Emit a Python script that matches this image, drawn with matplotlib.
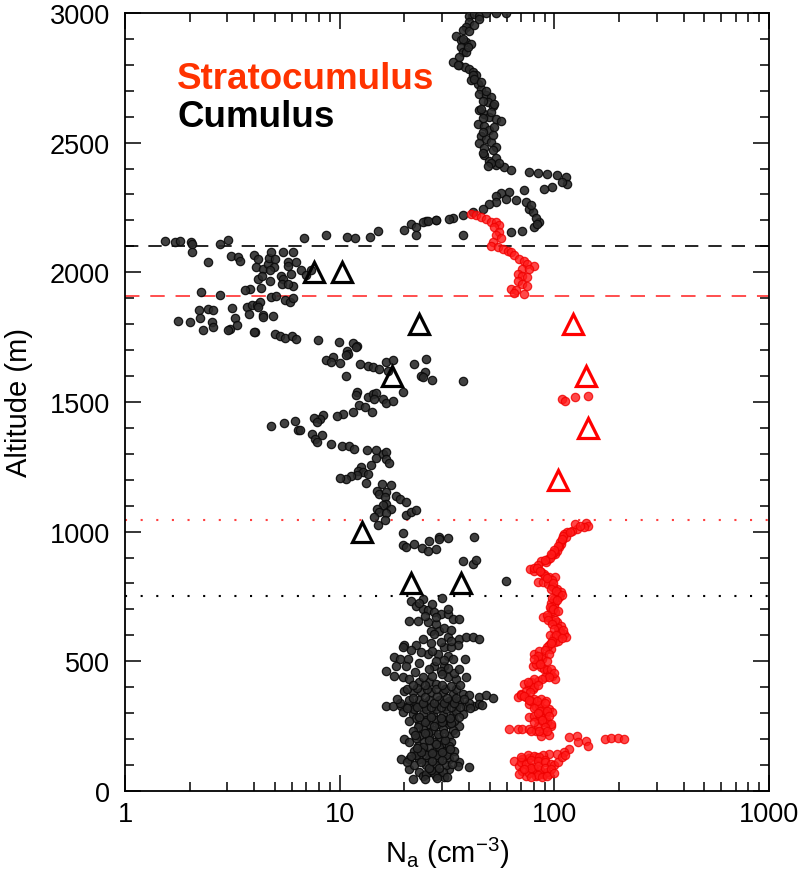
import numpy as np
import matplotlib
matplotlib.use("Agg")
import matplotlib.pyplot as plt
from matplotlib.ticker import FixedLocator, NullFormatter

plt.rcParams["font.family"] = ["Liberation Sans", "DejaVu Sans"]
plt.rcParams["mathtext.fontset"] = "custom"
plt.rcParams["mathtext.rm"] = "Liberation Sans"
plt.rcParams["mathtext.it"] = "Liberation Sans:italic"

# ---------- data: (N_a [cm^-3], altitude [m]) ----------
# cumulus profile
cu_top = [
    (40.2, 2990), (42.4, 2997), (44.7, 2990), (48.0, 2998), (53.5, 2998), (59.4, 2998),
    (40.2, 2965), (38.9, 2946), (37.5, 2933), (34.9, 2913), (36.8, 2894), (38.9, 2888),
    (40.9, 2881), (36.8, 2868), (37.5, 2849), (36.1, 2830), (33.7, 2811), (36.1, 2798),
    (38.2, 2791), (40.2, 2785), (41.6, 2772), (43.1, 2759), (40.9, 2740), (43.9, 2727),
    (45.5, 2708), (44.7, 2688), (48.0, 2682), (50.7, 2675), (48.9, 2656), (51.6, 2643),
    (44.7, 2624), (47.2, 2611), (49.8, 2598), (53.5, 2592), (56.4, 2585), (43.9, 2573),
    (47.2, 2566), (49.8, 2547), (45.5, 2527), (48.0, 2515), (50.7, 2502), (53.5, 2483),
    (47.2, 2451), (49.8, 2431), (53.5, 2412), (58.4, 2405), (62.7, 2393),
    (48.0, 2700), (46.3, 2660), (52.5, 2650), (45.5, 2630), (50.7, 2620), (46.3, 2595),
    (52.5, 2560), (46.3, 2540), (51.6, 2530), (44.7, 2500), (47.2, 2480), (51.6, 2470),
    (46.3, 2460), (53.5, 2440), (50.7, 2420), (55.4, 2420), (48.9, 2410), (38.9, 2850),
    (35.5, 2800), (41.6, 2760), (42.4, 2745), (45.5, 2735), (39.6, 2870), (37.5, 2900),
    (40.2, 2930), (42.4, 2955), (44.7, 2975),
]
cu_branch = [
    (76.4, 2386), (83.5, 2384), (92.6, 2380), (103, 2376), (113, 2367), (115, 2341),
    (109, 2348), (97.8, 2328), (89.5, 2322), (72.2, 2319), (61.6, 2311), (56.4, 2306),
    (53.5, 2296), (59.4, 2283), (66.1, 2277), (73.5, 2271), (76.4, 2245), (79.2, 2232),
    (85.0, 2193), (80.7, 2174), (71.0, 2161), (62.7, 2157), (53.5, 2271), (49.8, 2265),
    (46.3, 2245), (41.6, 2232), (37.5, 2219), (33.7, 2208), (28.2, 2203), (25.3, 2199),
    (37.5, 2145), (82.0, 2210), (78.0, 2258), (83.0, 2185),
]
cu_left = [
    (1.53, 2122), (1.71, 2116), (1.80, 2119), (2.04, 2116), (2.06, 2110), (2.06, 2080),
    (2.77, 2110), (3.02, 2126), (6.80, 2132), (8.67, 2142), (10.8, 2136), (11.8, 2132),
    (13.8, 2136), (15.1, 2159), (20.0, 2164), (21.5, 2187), (22.7, 2174), (24.4, 2193),
    (25.8, 2197), (28.2, 2202), (32.4, 2206), (22.7, 2142),
    (2.44, 2039), (3.11, 2062), (3.37, 2058), (3.45, 2042), (3.98, 2067), (4.18, 2052),
    (4.07, 2020), (4.40, 2011), (4.18, 1975), (4.36, 1985), (4.72, 1968), (4.64, 2033),
    (4.69, 2054), (4.81, 2078), (4.98, 2052), (4.93, 2020), (4.72, 2007), (5.45, 2078),
    (6.06, 2080), (5.75, 2039), (5.75, 2026), (6.28, 2039), (5.35, 1985), (5.45, 1975),
    (5.41, 1955), (5.95, 1994), (6.06, 1947), (5.75, 1955), (6.62, 2007), (6.99, 1988),
    (7.37, 2007), (4.32, 1939), (3.81, 1936), (3.61, 1930), (2.27, 1923), (2.77, 1913),
    (4.81, 1904), (5.07, 1908), (5.54, 1895), (5.85, 1887), (6.06, 1900), (3.68, 1866),
    (3.89, 1872), (4.10, 1875), (4.24, 1885), (4.18, 1866), (3.78, 1840), (4.40, 1836),
    (4.40, 1827), (4.89, 1831), (3.14, 1862), (2.44, 1859), (2.58, 1853), (2.22, 1856),
    (2.23, 1823), (2.53, 1810), (2.56, 1788), (2.31, 1778), (2.01, 1810), (1.77, 1812),
    (3.08, 1782), (3.02, 1778), (3.25, 1823), (3.31, 1797), (4.02, 1769), (4.98, 1763),
    (5.26, 1756), (5.54, 1746), (6.01, 1756), (6.23, 1743), (7.93, 1737), (9.94, 1731),
    (11.5, 1728), (12.0, 1715),
]
cu_mid = [
    (3.98, 1769), (11.9, 1711), (10.8, 1698), (10.9, 1686), (10.7, 1682), (9.32, 1673),
    (8.67, 1660), (9.15, 1656), (10.0, 1650), (12.4, 1647), (13.5, 1640), (14.3, 1634),
    (15.3, 1628), (16.4, 1654), (17.8, 1660), (16.8, 1621), (22.3, 1647), (25.3, 1664),
    (24.9, 1615), (23.9, 1602), (24.4, 1596), (27.0, 1585), (37.6, 1580), (10.7, 1602),
    (12.0, 1540), (11.9, 1527), (13.5, 1518), (14.3, 1531), (14.8, 1535), (14.5, 1512),
    (15.9, 1512), (16.5, 1497), (17.7, 1505), (19.8, 1540), (12.3, 1489), (13.1, 1480),
    (14.2, 1463), (11.5, 1461), (10.4, 1454), (9.68, 1445), (8.35, 1450), (8.07, 1435),
    (7.58, 1440), (7.85, 1422), (4.81, 1409), (5.51, 1419), (6.17, 1425), (6.40, 1390),
    (6.51, 1393), (7.46, 1377), (8.30, 1373), (7.67, 1358), (7.85, 1347), (9.15, 1338),
    (10.3, 1332), (11.1, 1329), (11.6, 1319), (13.4, 1315), (14.8, 1313), (14.8, 1283),
    (15.9, 1300), (16.4, 1306), (16.5, 1281), (16.9, 1265), (14.0, 1255), (12.6, 1249),
    (12.2, 1235), (12.9, 1229), (13.5, 1223), (12.0, 1219), (11.3, 1214), (10.7, 1201),
    (10.0, 1206), (13.3, 1188), (15.8, 1184), (17.4, 1178), (14.9, 1158), (15.2, 1146),
    (16.5, 1152), (16.2, 1133), (18.2, 1137), (19.0, 1126), (20.4, 1116), (16.5, 1107),
    (15.9, 1101), (17.4, 1088), (14.9, 1088), (15.3, 1075), (16.4, 1071), (14.5, 1056),
    (15.1, 1024), (16.2, 1043), (20.4, 1065), (21.6, 1075), (22.7, 1082), (19.7, 995),
    (19.7, 949), (20.3, 941), (22.3, 952), (24.2, 936), (25.8, 927), (28.2, 933),
    (26.2, 962), (29.1, 979), (29.0, 972), (31.9, 976), (42.4, 979),
    (37.4, 888), (41.7, 876), (43.2, 892), (59.6, 811),
]
cu_low = [
    (21.5, 734), (22.7, 715), (24.4, 702), (25.7, 696), (27.6, 689), (29.6, 683),
    (31.8, 683), (33.6, 663), (36.1, 663), (21.1, 657), (23.1, 657), (25.7, 651),
    (28.1, 644), (26.6, 618), (29.1, 618), (31.8, 593), (24.4, 586), (22.7, 561),
    (20.0, 561), (19.7, 554), (36.1, 586), (38.8, 593), (41.7, 593), (44.7, 586),
    (35.4, 561), (30.7, 554), (33.0, 554), (18.0, 516), (19.0, 509), (20.8, 509),
    (18.3, 483), (20.4, 483), (16.5, 464), (18.0, 445), (25.7, 528), (28.6, 528),
    (31.8, 522), (33.6, 509), (38.2, 509), (27.6, 483), (30.7, 483), (29.6, 464),
    (19.7, 438), (21.1, 432), (23.5, 419), (26.2, 419), (28.1, 413), (31.8, 438),
    (34.8, 432), (38.8, 438),
    (20.0, 387), (21.9, 381), (23.9, 381), (26.6, 381), (30.2, 381), (33.6, 374),
    (37.4, 374), (40.2, 370), (44.7, 361), (48.1, 370), (51.7, 357),
    (16.5, 329), (17.7, 329), (19.4, 329), (20.8, 329), (22.7, 329), (25.3, 329),
    (28.1, 329), (31.2, 329), (34.8, 329), (38.8, 329), (42.4, 329),
    (19.7, 303), (21.9, 297), (24.4, 297), (27.1, 291), (30.2, 291), (33.6, 291),
    (37.4, 297), (23.5, 258), (26.2, 258), (29.1, 258), (32.4, 258), (36.1, 252),
    (23.5, 213), (26.2, 207), (29.1, 207), (32.4, 213),
    (22.3, 156), (24.8, 156), (27.6, 156), (30.7, 156), (34.2, 156),
    (19.4, 123), (21.1, 123), (23.5, 123), (26.2, 123), (29.1, 123), (32.4, 123),
    (36.1, 111), (40.2, 91), (23.5, 72), (26.2, 72), (29.1, 72), (32.4, 85),
    (21.1, 85), (24.4, 59), (28.1, 59), (30.7, 53),
    (21.1, 350), (23.5, 350), (26.2, 350), (29.1, 350), (32.4, 345), (36.1, 345),
    (40.2, 340), (44.7, 335), (22.3, 315), (25.3, 315), (28.1, 315), (31.2, 315),
    (34.8, 310), (22.7, 280), (25.3, 275), (28.1, 275), (31.2, 275), (34.2, 270),
    (24.4, 240), (27.1, 235), (30.2, 240), (33.6, 235), (24.8, 190), (27.6, 190),
    (30.7, 185), (33.0, 190), (23.1, 175), (26.2, 170), (29.1, 170), (32.4, 175),
    (22.7, 140), (25.3, 140), (28.1, 140), (31.2, 140), (22.3, 100), (25.3, 100),
    (28.1, 100), (31.2, 100), (35.4, 95), (25.3, 65), (27.6, 68), (26.6, 80),
    (30.2, 72), (23.1, 245), (21.9, 230), (25.7, 225), (28.6, 220), (20.0, 200),
    (22.7, 205), (24.4, 170), (21.1, 190), (24.4, 740), (30.0, 745),
]
cu_core = [
    (22.0, 45), (25.0, 48), (28.5, 50), (31.5, 55), (26.0, 88), (29.0, 90), (33.5, 105),
    (20.5, 110), (23.8, 110), (27.0, 115), (30.0, 118), (34.0, 130), (21.5, 135),
    (24.0, 150), (27.0, 148), (30.0, 150), (32.5, 160), (23.0, 165), (28.0, 180),
    (31.0, 195), (26.0, 195), (22.5, 215), (25.0, 222), (30.5, 225), (34.5, 225),
    (27.5, 250), (25.0, 265), (30.0, 265), (33.0, 262), (21.0, 270), (23.5, 285),
    (26.5, 285), (29.5, 282), (32.5, 282), (36.0, 285), (20.5, 320), (23.0, 322),
    (26.5, 322), (29.5, 322), (33.0, 322), (36.5, 322), (40.5, 318), (46.0, 330),
    (19.0, 340), (24.5, 338), (27.5, 340), (30.5, 338), (34.0, 338), (18.5, 355),
    (22.0, 360), (25.0, 362), (28.5, 365), (31.5, 360), (35.0, 360), (38.0, 355),
    (20.5, 395), (23.0, 398), (25.5, 395), (28.0, 392), (31.0, 395), (35.0, 392),
    (22.0, 410), (25.0, 408), (30.0, 410), (33.0, 405), (36.5, 410), (24.5, 440),
    (27.0, 445), (30.0, 450), (34.0, 455), (22.5, 460), (26.0, 470), (32.0, 475),
    (36.0, 470), (23.5, 495), (28.0, 500), (30.5, 505), (24.0, 535), (27.0, 540),
    (21.5, 545), (26.5, 570), (29.5, 575), (33.0, 580), (27.5, 605), (30.5, 630),
    (33.0, 620), (25.0, 675), (28.0, 670), (32.0, 700), (23.5, 725), (27.0, 720),
]

# stratocumulus profile
sc_top = [
    (41.0, 2225), (43.1, 2219), (45.5, 2213), (48.0, 2204), (50.7, 2193), (53.5, 2193),
    (55.4, 2183), (52.5, 2174), (55.4, 2155), (53.5, 2142), (56.4, 2132), (51.6, 2116),
    (50.7, 2101), (54.4, 2097), (57.4, 2091), (60.5, 2084), (62.7, 2078), (65.2, 2065),
    (68.6, 2052), (72.3, 2045), (74.9, 2033), (80.7, 2024), (71.0, 2013), (76.4, 2013),
    (67.5, 1994), (71.0, 1985), (74.9, 1981), (67.5, 1968), (71.0, 1955), (74.9, 1949),
    (62.7, 1936), (66.3, 1930), (72.3, 1917), (65.2, 1921),
]
sc_gap = [(108, 1512), (112, 1505), (125, 1518), (144, 1522)]
sc_low = [
    (140, 1034), (144, 1023), (138, 1017), (127, 1011), (121, 1004), (115, 998),
    (111, 991), (113, 978), (108, 966), (107, 953), (105, 940), (103, 927), (101, 914),
    (98.0, 908), (93.1, 895), (86.8, 888), (91.5, 882), (77.3, 856), (80.7, 850),
    (86.8, 843), (89.9, 837), (94.6, 824), (101, 824), (83.5, 805), (88.4, 805),
    (93.1, 798), (98.0, 792), (103, 779), (107, 766), (105, 747), (101, 728),
    (99.7, 715), (96.3, 702), (101, 689), (88.4, 670), (93.1, 670), (98.0, 657),
    (103, 651), (107, 638), (105, 618), (111, 606), (99.7, 593), (113, 593),
    (101, 573), (94.6, 561), (96.3, 548), (80.7, 528), (88.4, 522), (83.5, 496),
    (79.2, 483), (86.8, 477), (89.9, 471), (93.1, 458), (98.0, 445), (101, 432),
    (83.5, 425), (72.3, 413), (76.4, 406), (79.2, 393), (69.8, 374), (67.4, 361),
    (73.5, 361), (80.7, 355), (86.8, 355), (91.5, 348), (76.4, 336), (82.1, 323),
    (88.4, 316), (94.6, 316), (98.0, 303), (76.4, 284), (83.5, 278), (91.5, 278),
    (88.4, 265), (96.3, 252), (61.6, 239), (67.4, 239), (71.0, 239), (76.4, 239),
    (82.1, 233), (88.4, 226), (94.6, 216), (86.8, 213), (117, 207), (127, 213),
    (129, 188), (140, 194), (143, 175), (173, 201), (184, 203), (197, 203),
    (211, 201), (117, 162), (111, 152), (103, 143), (94.6, 143), (88.4, 139),
    (82.1, 130), (76.4, 126), (71.0, 123), (65.2, 117), (68.6, 98), (76.4, 98),
    (71.0, 78), (79.2, 72), (88.4, 66), (94.6, 66), (73.5, 59), (82.1, 59), (68.6, 66),
    (110, 985), (106, 960), (100, 920), (95, 900), (84, 870), (80, 860), (90, 830),
    (97, 815), (99, 785), (104, 760), (100, 740), (96, 725), (97, 695), (92, 680),
    (101, 660), (104, 630), (106, 610), (95, 600), (104, 580), (92, 555), (85, 540),
    (88, 510), (84, 505), (82, 490), (92, 465), (95, 450), (90, 440), (78, 420),
    (80, 400), (74, 385), (70, 370), (78, 345), (85, 330), (90, 300), (80, 290),
    (86, 290), (92, 265), (84, 250), (75, 140), (80, 135), (85, 130), (90, 120),
    (70, 110), (74, 105), (80, 85), (86, 80), (92, 75), (76, 70), (84, 62),
]
sc_core = [
    (125, 1028), (132, 1020), (118, 1000), (109, 972), (104, 945), (100, 930), (96, 915),
    (90, 890), (83, 860), (86, 850), (92, 820), (99, 800), (96, 780), (102, 770),
    (108, 755), (98, 745), (103, 735), (95, 710), (99, 700), (104, 695), (93, 660),
    (97, 645), (100, 625), (110, 620), (102, 600), (108, 590), (98, 580), (96, 570),
    (90, 545), (94, 530), (84, 520), (80, 510), (92, 500), (86, 490), (96, 470),
    (100, 455), (94, 440), (88, 430), (80, 430), (75, 420), (84, 410), (77, 380),
    (72, 365), (76, 350), (83, 345), (90, 340), (80, 320), (86, 310), (92, 310),
    (84, 300), (94, 290), (88, 275), (80, 265), (96, 260), (90, 245), (78, 230),
    (85, 230), (92, 230), (70, 130), (78, 120), (84, 115), (90, 110), (96, 105),
    (100, 100), (104, 112), (108, 130), (112, 140), (78, 90), (84, 95), (90, 90),
    (96, 85), (72, 85), (88, 55), (92, 58), (78, 52), (100, 70),
]

# model values (open triangles)
tri_cu_na = [7.57, 10.3, 23.3, 17.5, 12.7, 21.6, 36.9]
tri_cu_alt = [2000, 2000, 1800, 1600, 1000, 800, 800]
tri_sc_na = [122, 141, 143, 104]
tri_sc_alt = [1800, 1600, 1400, 1200]

# reference levels
cu_top_level = 2100   # black dashed
sc_top_level = 1910   # red dashed
sc_base_level = 1045  # red dotted
cu_base_level = 750   # black dotted

cu = np.array(cu_top + cu_branch + cu_left + cu_mid + cu_low + cu_core)
sc = np.array(sc_top + sc_gap + sc_low + sc_core)

fig = plt.figure(figsize=(8.02, 8.78), dpi=100)
ax = fig.add_axes([0.1559, 0.0980, 0.8030, 0.8861])

ax.scatter(cu[:, 0], cu[:, 1], s=36, facecolor="#2c2c2c", edgecolor="#0a0a0a",
           linewidths=0.9, alpha=0.9, zorder=3)
ax.scatter(sc[:, 0], sc[:, 1], s=36, facecolor="#ff1a1a", edgecolor="#f00000",
           linewidths=0.9, alpha=0.8, zorder=4)

ax.plot(tri_cu_na, tri_cu_alt, ls="none", marker="^", ms=15, mfc="none",
        mec="black", mew=2.3, zorder=5)
ax.plot(tri_sc_na, tri_sc_alt, ls="none", marker="^", ms=15, mfc="none",
        mec="#ff0000", mew=2.3, zorder=5)

ax.axhline(cu_top_level, color="black", lw=1.2, ls=(0, (8, 6)), zorder=2)
ax.axhline(sc_top_level, color="#ff4040", lw=1.3, ls=(0, (8, 6)), zorder=2)
ax.axhline(sc_base_level, color="#ff4040", lw=1.5, ls=(0, (1, 6.5)), zorder=2)
ax.axhline(cu_base_level, color="black", lw=1.5, ls=(0, (1, 6.5)), zorder=2)

ax.set_xscale("log")
ax.set_xlim(1, 1000)
ax.set_ylim(0, 3000)
ax.set_xticks([1, 10, 100, 1000], ["1", "10", "100", "1000"])
ax.xaxis.set_minor_locator(FixedLocator([m * 10.0 ** d for d in range(3) for m in range(2, 10)]))
ax.xaxis.set_minor_formatter(NullFormatter())
ax.set_yticks(np.arange(0, 3001, 500))
ax.yaxis.set_minor_locator(FixedLocator(np.arange(0, 3001, 100)))

ax.tick_params(which="both", direction="in", top=True, right=True, width=1.1, colors="black")
ax.tick_params(which="major", length=11.5, labelsize=19.5)
ax.tick_params(which="minor", length=6.5)
ax.tick_params(axis="x", which="major", pad=7)
ax.tick_params(axis="y", which="major", pad=11)
for sp in ax.spines.values():
    sp.set_linewidth(1.3)

ax.set_ylabel("Altitude (m)", fontsize=21, labelpad=12)
ax.set_xlabel(r"N$_{\mathrm{a}}$ (cm$^{-3}$)", fontsize=21, labelpad=6)

ax.text(0.081, 0.9036, "Stratocumulus", transform=ax.transAxes, color="#ff3300",
        fontsize=26.5, fontweight="bold", va="baseline", ha="left")
ax.text(0.081, 0.8548, "Cumulus", transform=ax.transAxes, color="black",
        fontsize=26.5, fontweight="bold", va="baseline", ha="left")

fig.savefig("out.png", dpi=100)
